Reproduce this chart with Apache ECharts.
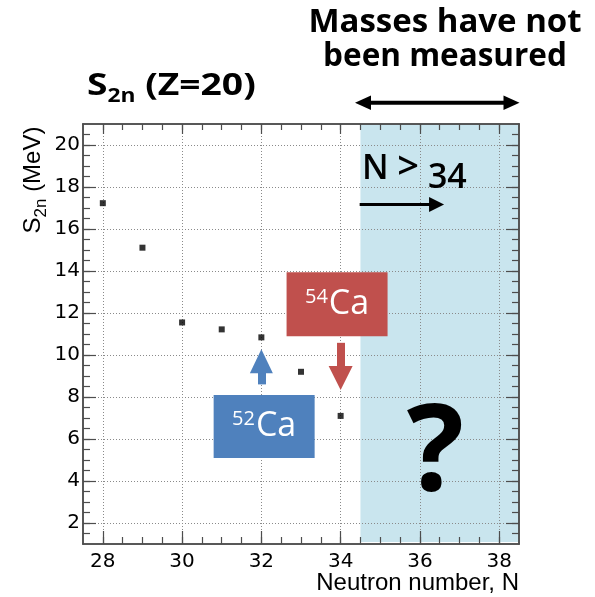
<!DOCTYPE html>
<html>
<head>
<meta charset="utf-8">
<title>S2n (Z=20)</title>
<script src="https://cdn.jsdelivr.net/npm/echarts@6.0.0/dist/echarts.min.js"></script>
<style>
  html, body { margin: 0; padding: 0; background: #ffffff; }
  #chart { width: 595px; height: 597px; }
</style>
</head>
<body>
<div id="chart"></div>
<script>
// Two-neutron separation energies of calcium isotopes (Z = 20)
const neutronNumbers = [28, 29, 30, 31, 32, 33, 34];
const s2nValues = [17.23, 15.11, 11.55, 11.22, 10.84, 9.20, 7.10];

// Axis tick labels
const xTickLabels = [28, 30, 32, 34, 36, 38];
const yTickLabels = [2, 4, 6, 8, 10, 12, 14, 16, 18, 20];

// Axis ranges
const xRange = [27.5, 38.5];
const yRange = [1, 21];

// Neutron numbers beyond N = 34: masses not measured
const unmeasuredN = [34.5, 38.5];

function halfSteps(lo, hi) {
  const v = [];
  for (let k = Math.round(lo * 2); k <= Math.round(hi * 2); k++) v.push(k / 2);
  return v;
}
const xMinorTicks = halfSteps(28, 38);
const yMinorTicks = halfSteps(1.5, 20.5);

const FRAME = '#4d4d4d';
const SANS = '"Liberation Sans", Arial, sans-serif';
const WIDE = '"DejaVu Sans", "Liberation Sans", sans-serif';
const HUMANIST = '"Open Sans", Lato, sans-serif';
const RED = '#c0504d';
const BLUE = '#4f81bd';

function frameAxis(range, position, ticks, length, extra) {
  return Object.assign({
    type: 'value',
    position: position,
    min: range[0],
    max: range[1],
    interval: 0.5,
    z: 3,
    axisLine: { show: true, onZero: false, lineStyle: { color: FRAME, width: 1.5 } },
    axisTick: { show: true, inside: true, length: length, customValues: ticks,
                lineStyle: { color: FRAME, width: 1.2 } },
    axisLabel: { show: false },
    splitLine: { show: false },
    minorTick: { show: false }
  }, extra || {});
}

const gridLine = { show: true, lineStyle: { color: '#8a8a8a', width: 1, type: [1, 2] } };

const xAxes = [
  frameAxis(xRange, 'bottom', xTickLabels, 13, {
    axisLabel: { show: true, customValues: xTickLabels, color: '#000', fontFamily: WIDE,
                 fontSize: 20, margin: 8 },
    splitLine: gridLine
  }),
  frameAxis(xRange, 'bottom', xMinorTicks, 7),
  frameAxis(xRange, 'top', xTickLabels, 10),
  frameAxis(xRange, 'top', xMinorTicks, 6)
];
const yAxes = [
  frameAxis(yRange, 'left', yTickLabels, 13, {
    axisLabel: { show: true, customValues: yTickLabels, color: '#000', fontFamily: WIDE,
                 fontSize: 20, margin: 3 },
    splitLine: gridLine
  }),
  frameAxis(yRange, 'left', yMinorTicks, 7),
  frameAxis(yRange, 'right', yTickLabels, 13),
  frameAxis(yRange, 'right', yMinorTicks, 7)
];

function isotopeLabel(mass, element) {
  return {
    show: true,
    position: 'inside',
    formatter: '{sup|' + mass + '}{el|' + element + '}',
    rich: {
      sup: { fontFamily: HUMANIST, fontSize: 20, color: '#fff', lineHeight: 46, padding: [0, 1, 14, 0] },
      el: { fontFamily: HUMANIST, fontSize: 34, color: '#fff', lineHeight: 46 }
    }
  };
}

function arrow(from, to, color, width, head) {
  return [
    { coord: from, symbol: 'none' },
    { coord: to, symbol: 'triangle', symbolSize: head,
      lineStyle: { color: color, width: width, type: 'solid' } }
  ];
}

const chart = echarts.init(document.getElementById('chart'), null, { renderer: 'canvas' });

chart.setOption({
  animation: false,
  backgroundColor: '#ffffff',
  grid: { left: 83, right: 76, top: 124, bottom: 53, containLabel: false, outerBoundsMode: 'none' },
  xAxis: xAxes,
  yAxis: yAxes,
  series: [
    {
      type: 'scatter',
      name: 'unmeasured',
      data: [],
      z: 1,
      silent: true,
      markArea: {
        silent: true,
        itemStyle: { color: '#c9e5ee' },
        label: { show: false },
        data: [[{ xAxis: unmeasuredN[0], yAxis: 1.1 }, { xAxis: unmeasuredN[1], yAxis: yRange[1] }]]
      }
    },
    {
      type: 'scatter',
      name: 'S2n',
      z: 5,
      symbol: 'rect',
      symbolSize: 6,
      itemStyle: { color: '#000' },
      data: neutronNumbers.map((n, i) => [n, s2nValues[i]])
    },
    {
      type: 'scatter',
      name: 'notes',
      data: [],
      z: 6,
      silent: true,
      markLine: {
        silent: true,
        label: { show: false },
        symbol: ['none', 'triangle'],
        lineStyle: { type: 'solid' },
        data: [
          arrow([34, 10.58], [34, 8.9], RED, 8, [24, 24]),
          arrow([32, 8.6], [32, 9.7], BLUE, 8, [23, 24]),
          arrow([34.48, 17.17], [36.42, 17.17], '#000', 3, [15, 15])
        ]
      },
      markPoint: {
        silent: true,
        data: [
          { coord: [33.91, 12.42], symbol: 'rect', symbolSize: [101, 64],
            itemStyle: { color: RED }, label: isotopeLabel('54', 'Ca') },
          { coord: [32.07, 6.59], symbol: 'rect', symbolSize: [101, 63],
            itemStyle: { color: BLUE }, label: isotopeLabel('52', 'Ca') },
          { coord: [35.86, 18.83], symbol: 'rect', symbolSize: 1,
            itemStyle: { color: 'rgba(0,0,0,0)' },
            label: {
              show: true, position: 'inside',
              formatter: '{n|N }{gt|>}{num| 34}',
              rich: {
                n: { fontFamily: HUMANIST, fontWeight: 600, fontSize: 34, color: '#000', lineHeight: 60 },
                gt: { fontFamily: HUMANIST, fontWeight: 600, fontSize: 38, color: '#000', lineHeight: 60, padding: [0, 0, 2, 0] },
                num: { fontFamily: HUMANIST, fontWeight: 600, fontSize: 34, color: '#000', lineHeight: 60, padding: [17, 0, 0, 0] }
              }
            } },
          { coord: [36.39, 5.2], symbol: 'rect', symbolSize: 1,
            itemStyle: { color: 'rgba(0,0,0,0)' },
            label: { show: true, position: 'inside', formatter: '?',
                     fontFamily: HUMANIST, fontWeight: 'bold', fontSize: 120, color: '#000' } }
        ]
      }
    }
  ],
  graphic: [
    {
      type: 'text', x: 87, y: 86, z: 10, scaleX: 1.2,
      style: {
        text: '{m|S}{sub|2n}{m| (Z=20)}',
        align: 'left', verticalAlign: 'middle',
        rich: {
          m: { fontFamily: HUMANIST, fontWeight: 'bold', fontSize: 31, color: '#000', lineHeight: 44 },
          sub: { fontFamily: HUMANIST, fontWeight: 'bold', fontSize: 19, color: '#000', lineHeight: 44, padding: [22, 0, 0, 0] }
        }
      }
    },
    {
      type: 'text', x: 445, y: 23, z: 10,
      style: { text: 'Masses have not', align: 'center', verticalAlign: 'middle',
               fontFamily: HUMANIST, fontWeight: 'bold', fontSize: 33, fill: '#000' }
    },
    {
      type: 'text', x: 445, y: 57, z: 10,
      style: { text: 'been measured', align: 'center', verticalAlign: 'middle',
               fontFamily: HUMANIST, fontWeight: 'bold', fontSize: 31.5, fill: '#000' }
    },
    {
      type: 'group', z: 10,
      children: [
        { type: 'line', shape: { x1: 366, y1: 102.7, x2: 508, y2: 102.7 }, style: { stroke: '#000', lineWidth: 4 } },
        { type: 'polygon', shape: { points: [[355, 102.7], [371, 95.5], [371, 109.9]] }, style: { fill: '#000' } },
        { type: 'polygon', shape: { points: [[519.5, 102.7], [503.5, 95.5], [503.5, 109.9]] }, style: { fill: '#000' } }
      ]
    },
    {
      type: 'text', x: 519, y: 583, z: 10,
      style: { text: 'Neutron number, N', align: 'right', verticalAlign: 'middle',
               fontFamily: SANS, fontSize: 24, fill: '#000' }
    },
    {
      type: 'text', x: 33, y: 180, rotation: Math.PI / 2, z: 10,
      style: {
        text: '{m|S}{sub|2n}{m| (MeV)}',
        align: 'center', verticalAlign: 'middle',
        rich: {
          m: { fontFamily: SANS, fontSize: 24, color: '#000', lineHeight: 34 },
          sub: { fontFamily: SANS, fontSize: 17, color: '#000', lineHeight: 34, padding: [16, 0, 0, 0] }
        }
      }
    }
  ]
});
</script>
</body>
</html>
